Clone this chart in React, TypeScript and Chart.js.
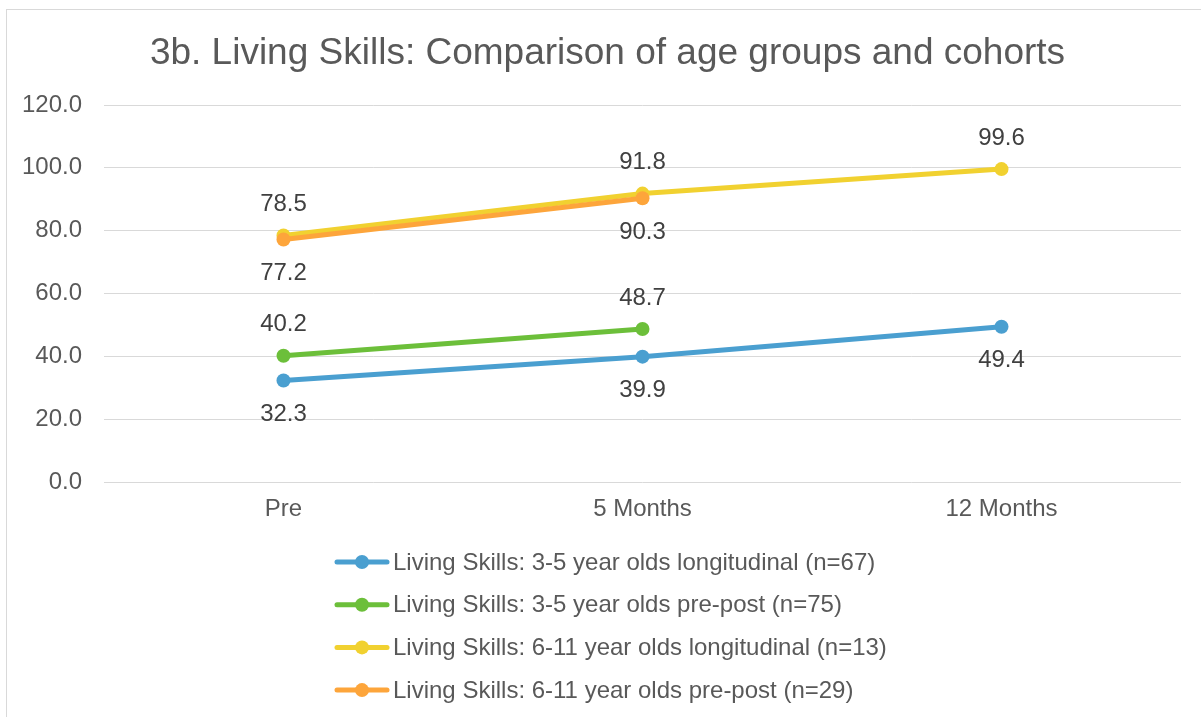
import React, { useEffect, useRef } from "react";
import { Chart, registerables } from "chart.js";

Chart.register(...registerables);

const chartTitle = "3b. Living Skills: Comparison of age groups and cohorts";
const categories = ["Pre", "5 Months", "12 Months"];
const seriesLabels = [
  "Living Skills: 3-5 year olds longitudinal (n=67)",
  "Living Skills: 3-5 year olds pre-post (n=75)",
  "Living Skills: 6-11 year olds longitudinal (n=13)",
  "Living Skills: 6-11 year olds pre-post (n=29)",
];
const blueValues = [32.3, 39.9, 49.4];
const greenValues = [40.2, 48.7, null];
const yellowValues = [78.5, 91.8, 99.6];
const orangeValues = [77.2, 90.3, null];
const seriesColors = ["#4A9FD0", "#6CBF3A", "#F1D130", "#FDA53B"];
const labelPositions = ["below", "above", "above", "below"];
const yTicks = [0, 20, 40, 60, 80, 100, 120];

const FONT = "'Liberation Sans', Arial, sans-serif";

const framePlugin = {
  id: "frame",
  beforeDraw(chart: any) {
    const ctx = chart.ctx;
    ctx.save();
    ctx.fillStyle = "#ffffff";
    ctx.fillRect(0, 0, chart.width, chart.height);
    ctx.strokeStyle = "#d9d9d9";
    ctx.lineWidth = 1;
    ctx.strokeRect(6.5, 9.5, chart.width + 10, chart.height + 10);
    ctx.fillStyle = "#595959";
    ctx.font = `37px ${FONT}`;
    ctx.textAlign = "center";
    ctx.textBaseline = "alphabetic";
    ctx.fillText(chartTitle, 607.5, 64);
    ctx.restore();
  },
};

const dataLabelPlugin = {
  id: "dataLabels",
  afterDatasetsDraw(chart: any) {
    const ctx = chart.ctx;
    ctx.save();
    ctx.font = `24px ${FONT}`;
    ctx.fillStyle = "#404040";
    ctx.textAlign = "center";
    ctx.textBaseline = "middle";
    chart.data.datasets.forEach((ds: any, i: number) => {
      const meta = chart.getDatasetMeta(i);
      meta.data.forEach((pt: any, j: number) => {
        const v = ds.data[j];
        if (v === null || v === undefined) return;
        const dy = labelPositions[i] === "above" ? -31 : 34;
        ctx.fillText(v.toFixed(1), pt.x, pt.y + dy);
      });
    });
    ctx.restore();
  },
};

const legendPlugin = {
  id: "customLegend",
  afterDraw(chart: any) {
    const ctx = chart.ctx;
    ctx.save();
    const x0 = 335;
    const y0 = 562;
    const step = 42.7;
    chart.data.datasets.forEach((ds: any, i: number) => {
      const y = y0 + i * step;
      ctx.strokeStyle = ds.borderColor;
      ctx.lineWidth = 5;
      ctx.lineCap = "round";
      ctx.beginPath();
      ctx.moveTo(x0 + 2, y);
      ctx.lineTo(x0 + 52, y);
      ctx.stroke();
      ctx.fillStyle = ds.borderColor;
      ctx.beginPath();
      ctx.arc(x0 + 27, y, 7, 0, Math.PI * 2);
      ctx.fill();
      ctx.fillStyle = "#595959";
      ctx.font = `24px ${FONT}`;
      ctx.textAlign = "left";
      ctx.textBaseline = "middle";
      ctx.fillText(ds.label, x0 + 58, y + 1);
    });
    ctx.restore();
  },
};

export default function App() {
  const canvasRef = useRef<HTMLCanvasElement | null>(null);

  useEffect(() => {
    if (!canvasRef.current) return;
    const valuesList = [blueValues, greenValues, yellowValues, orangeValues];
    const orders = [3, 2, 1, 0];
    const chart = new Chart(canvasRef.current, {
      type: "line",
      data: {
        labels: categories,
        datasets: valuesList.map((vals, i) => ({
          label: seriesLabels[i],
          data: vals,
          borderColor: seriesColors[i],
          backgroundColor: seriesColors[i],
          pointBackgroundColor: seriesColors[i],
          pointBorderColor: seriesColors[i],
          borderWidth: 5,
          pointRadius: 7,
          pointBorderWidth: 0,
          tension: 0,
          order: orders[i],
          spanGaps: false,
        })),
      },
      options: {
        animation: false,
        responsive: false,
        maintainAspectRatio: false,
        layout: { padding: { top: 105, left: 0, right: 20, bottom: 190 } },
        plugins: {
          legend: { display: false },
          tooltip: { enabled: false },
          title: { display: false },
        },
        scales: {
          x: {
            offset: true,
            grid: { display: false, drawTicks: false },
            border: { display: false },
            ticks: {
              color: "#595959",
              font: { family: FONT, size: 24 },
              padding: 13,
            },
            afterFit(scale: any) {
              scale.height = 45;
            },
          },
          y: {
            min: 0,
            max: 120,
            grid: { color: "#d9d9d9", lineWidth: 1, drawTicks: false },
            border: { display: false },
            afterBuildTicks(scale: any) {
              scale.ticks = yTicks.map((v) => ({ value: v }));
            },
            ticks: {
              color: "#595959",
              font: { family: FONT, size: 24 },
              padding: 22,
              callback: (v: any) => Number(v).toFixed(1),
            },
            afterFit(scale: any) {
              scale.width = 104;
            },
          },
        },
      } as any,
      plugins: [framePlugin, dataLabelPlugin, legendPlugin],
    });
    return () => chart.destroy();
  }, []);

  return (
    <div style={{ position: "fixed", left: 0, top: 0, width: 1201, height: 717, background: "#fff" }}>
      <canvas ref={canvasRef} width={1201} height={717} style={{ width: 1201, height: 717 }} />
    </div>
  );
}
